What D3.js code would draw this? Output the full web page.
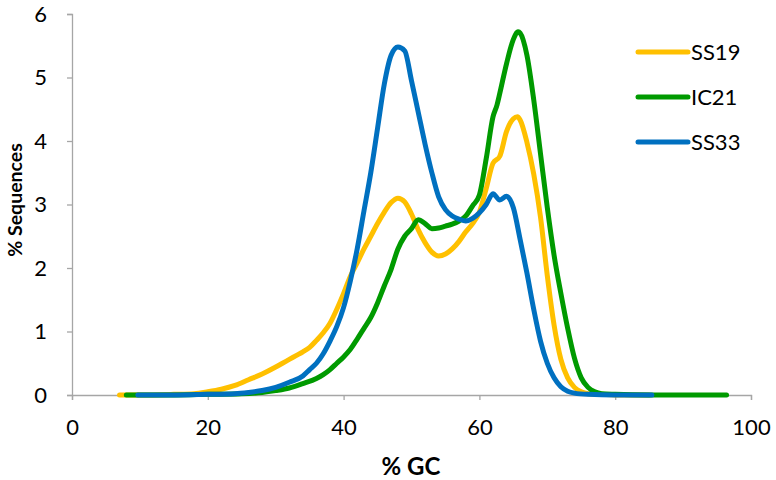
<!DOCTYPE html>
<html>
<head>
<meta charset="utf-8">
<script src="https://cdn.jsdelivr.net/npm/d3@7"></script>
<style>
  html, body { margin: 0; padding: 0; background: #fff; }
  svg { display: block; }
  text { font-family: Lato, "Open Sans", sans-serif; fill: #000; }
</style>
</head>
<body>
<svg id="chart" width="776" height="480"></svg>
<script>
// ---- data ----
const seriesNames = ["SS19", "IC21", "SS33"];
const seriesColors = ["#ffc000", "#009a00", "#0070c0"];

const ss19GC  = [7,10,15,18,20,22,24,26,28,30,31,32,33,34,35,36,37,38,39,40,41,42,43,44,45,46,47,48,49,50,51,52,53,54,55,56,57,58,59,60,61,62,63,64,65,65.6,66,67,68,69,70,71,72,73,74,75,76,78,80,85];
const ss19Val = [0,0,0.01,0.02,0.05,0.09,0.15,0.24,0.33,0.44,0.5,0.56,0.62,0.68,0.75,0.86,0.98,1.13,1.35,1.6,1.87,2.08,2.3,2.5,2.7,2.88,3.03,3.1,3.04,2.85,2.6,2.4,2.25,2.19,2.22,2.3,2.42,2.57,2.7,2.88,3.25,3.65,3.76,4.15,4.35,4.38,4.33,3.98,3.48,2.8,1.88,1.1,0.56,0.27,0.12,0.05,0.02,0.01,0,0];

const ic21GC  = [8,15,20,25,28,30,32,34,36,37,38,39,40,41,42,43,44,45,46,47,48,49,50,51,52,53,54,55,56,57,58,59,60,61,62,62.6,63,64,65,65.7,66,67,68,69,70,71,72,73,74,75,76,77,78,80,85,96.4];
const ic21Val = [0,0,0.01,0.02,0.04,0.07,0.11,0.18,0.26,0.32,0.4,0.5,0.6,0.72,0.88,1.05,1.22,1.45,1.72,1.98,2.3,2.5,2.62,2.76,2.7,2.62,2.63,2.66,2.69,2.74,2.82,2.98,3.15,3.72,4.38,4.57,4.75,5.22,5.6,5.72,5.7,5.35,4.65,3.8,2.95,2.2,1.6,1.05,0.58,0.27,0.12,0.05,0.02,0.01,0,0];

const ss33GC  = [9.7,15,20,24,26,28,30,32,34,35,36,37,38,39,40,41,42,43,44,45,46,47,48,49,50,51,52,53,54,55,56,57,58,59,60,61,62,63,64,65,66,67,68,69,70,71,72,73,74,76,80,85.4];
const ss33Val = [0,0,0.01,0.02,0.04,0.07,0.12,0.2,0.3,0.4,0.5,0.65,0.85,1.08,1.38,1.8,2.3,2.9,3.5,4.2,4.9,5.35,5.48,5.42,4.95,4.45,3.95,3.5,3.12,2.92,2.82,2.77,2.74,2.78,2.87,3.0,3.17,3.07,3.13,2.95,2.45,1.92,1.35,0.85,0.5,0.27,0.13,0.06,0.03,0.01,0,0];

const xTicks = [0,20,40,60,80,100];
const yTicks = [0,1,2,3,4,5,6];
const xTitle = "% GC";
const yTitle = "% Sequences";

// ---- layout ----
const svg = d3.select("#chart");
const x = d3.scaleLinear().domain([0,100]).range([72,751]);
const y = d3.scaleLinear().domain([0,6]).range([395,14]);
const axisColor = "#a6a6a6";

const gx = svg.append("g").attr("transform", `translate(0,${y(0)})`)
  .call(d3.axisBottom(x).tickValues(xTicks).tickSize(5).tickPadding(19).tickFormat(d3.format("d")));
const gy = svg.append("g").attr("transform", `translate(${x(0)},0)`)
  .call(d3.axisLeft(y).tickValues(yTicks).tickSize(5).tickPadding(20).tickFormat(d3.format("d")));

[gx, gy].forEach(g => {
  g.select(".domain").attr("stroke", axisColor).attr("stroke-width", 1.3);
  g.selectAll(".tick line").attr("stroke", axisColor).attr("stroke-width", 1.3);
  g.selectAll(".tick text").attr("font-size", 22).attr("font-family", "Lato, 'Open Sans', sans-serif").attr("fill", "#000");
});

// lines
const data = [
  ss19GC.map((g,i) => [g, ss19Val[i]]),
  ic21GC.map((g,i) => [g, ic21Val[i]]),
  ss33GC.map((g,i) => [g, ss33Val[i]])
];
const line = d3.line().x(d => x(d[0])).y(d => y(d[1])).curve(d3.curveMonotoneX);
svg.append("g").selectAll("path").data(data).join("path")
  .attr("d", line)
  .attr("fill", "none")
  .attr("stroke", (d,i) => seriesColors[i])
  .attr("stroke-width", 5)
  .attr("stroke-linejoin", "round")
  .attr("stroke-linecap", "round");

// axis titles
svg.append("text").attr("x", 411).attr("y", 475)
  .attr("text-anchor", "middle").attr("font-weight", "bold").attr("font-size", 24)
  .text(xTitle);
svg.append("text").attr("transform", `translate(22,200) rotate(-90)`)
  .attr("text-anchor", "middle").attr("font-weight", "bold").attr("font-size", 19.5)
  .text(yTitle);

// legend
const legendY = d3.scalePoint().domain(seriesNames).range([52, 142]);
const lg = svg.append("g").selectAll("g").data(seriesNames).join("g")
  .attr("transform", d => `translate(638,${legendY(d)})`);
lg.append("line").attr("x1", 0).attr("x2", 50).attr("y1", 0).attr("y2", 0)
  .attr("stroke", (d,i) => seriesColors[i]).attr("stroke-width", 5).attr("stroke-linecap", "round");
lg.append("text").attr("x", 53).attr("y", 0).attr("dy", "0.36em")
  .attr("font-size", 22).text(d => d);
</script>
</body>
</html>
